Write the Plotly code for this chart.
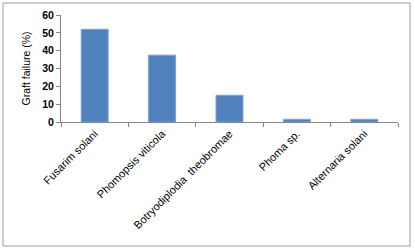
import plotly.graph_objects as go

categories = ["Fusarim solani", "Phomopsis viticola", "Botryodiplodia  theobromae", "Phoma sp.", "Alternaria solani"]
graft_failure = [52, 37.5, 15, 1.5, 1.5]
y_ticks = [0, 10, 20, 30, 40, 50, 60]
y_title = "Graft failure (%)"

W, H = 415, 250
L, R, T, B = 61, 17, 15, 128
pw, ph = W - L - R, H - T - B

def px_x(x):
    return (x - L) / pw

def px_y(y):
    return (H - B - y) / ph

fig = go.Figure(go.Bar(
    x=categories, y=graft_failure,
    marker=dict(color="#4F81BD", line=dict(color="#7FA3D1", width=1)),
    width=0.4,
))

fig.update_layout(
    width=W, height=H,
    margin=dict(l=L, r=R, t=T, b=B, pad=0, autoexpand=False),
    paper_bgcolor="white", plot_bgcolor="white",
    font=dict(family="Liberation Sans, Arial", size=10, color="black"),
    showlegend=False,
    shapes=[dict(type="rect", xref="paper", yref="paper",
                 x0=px_x(3), x1=px_x(410), y0=px_y(246), y1=px_y(3),
                 line=dict(color="#BFBFBF", width=1.5), layer="below")],
    annotations=[dict(text=y_title, xref="paper", yref="paper",
                      x=px_x(25), y=0.5, xanchor="center", yanchor="middle",
                      textangle=-90, showarrow=False, font=dict(size=10.5))],
)
fig.update_xaxes(
    showline=True, linecolor="#868686", linewidth=1,
    ticks="outside", ticklen=4, tickcolor="#868686",
    tickson="boundaries", tickangle=-45,
    tickfont=dict(size=11), showgrid=False, automargin=False,
)
fig.update_yaxes(
    range=[0, 60], tickvals=y_ticks,
    showline=True, linecolor="#868686", linewidth=1,
    ticks="outside", ticklen=4, tickcolor="#868686",
    tickfont=dict(size=10.5, weight="bold"),
    showgrid=False, zeroline=False, automargin=False,
)
fig.write_html("out.html", config={"displayModeBar": False},
               post_script="document.body.style.margin='0';")
